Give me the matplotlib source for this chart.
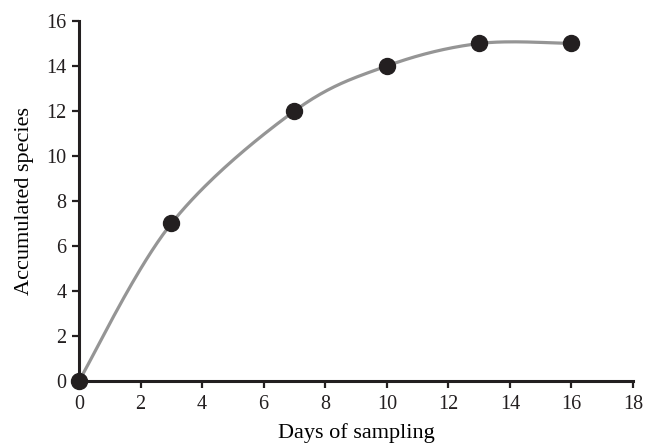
import numpy as np
import matplotlib.pyplot as plt

plt.rcParams['font.family'] = ['Liberation Serif', 'DejaVu Serif']

days = [0, 3, 7, 10, 13, 16]
species = [0, 7, 12, 14, 15, 15]
xticks = [0, 2, 4, 6, 8, 10, 12, 14, 16, 18]
yticks = [0, 2, 4, 6, 8, 10, 12, 14, 16]


def smooth_line(xs, ys, n=40):
    # Excel-style smoothed line (Bezier through the points)
    p = np.column_stack([xs, ys]).astype(float)
    p = np.vstack([p[0], p, p[-1]])
    out = []
    t = np.linspace(0, 1, n)[:, None]
    for i in range(1, len(p) - 2):
        p0, p3 = p[i], p[i + 1]
        c1 = p0 + (p[i + 1] - p[i - 1]) / 6
        c2 = p3 - (p[i + 2] - p[i]) / 6
        seg = ((1 - t) ** 3) * p0 + 3 * ((1 - t) ** 2) * t * c1 + 3 * (1 - t) * t ** 2 * c2 + t ** 3 * p3
        out.append(seg)
    out = np.vstack(out)
    return out[:, 0], out[:, 1]


fig = plt.figure(figsize=(6.6, 4.43), dpi=100)
ax = fig.add_axes([0.1197, 0.14, 0.8394, 0.8126])

sx, sy = smooth_line(days, species)
ax.plot(sx, sy, color='#959595', lw=2.3, clip_on=False, zorder=2)
ax.plot(days, species, 'o', color='#231f20', ms=11.5, clip_on=False, zorder=3)

ax.set_xlim(0, 18)
ax.set_ylim(0, 16)
ax.set_xticks(xticks)
ax.set_yticks(yticks)
for s in ['top', 'right']:
    ax.spines[s].set_visible(False)
for s in ['left', 'bottom']:
    ax.spines[s].set_linewidth(2.2)
    ax.spines[s].set_color('#231f20')
ax.tick_params(direction='out', length=5, width=1.6, colors='#231f20', labelsize=14.5)
ax.tick_params(axis='x', pad=5)
ax.tick_params(axis='y', pad=4)
ax.set_xlabel('Days of sampling', fontsize=16, labelpad=7)
ax.set_ylabel('Accumulated species', fontsize=16, labelpad=9)

fig.savefig('out.png', dpi=100)
